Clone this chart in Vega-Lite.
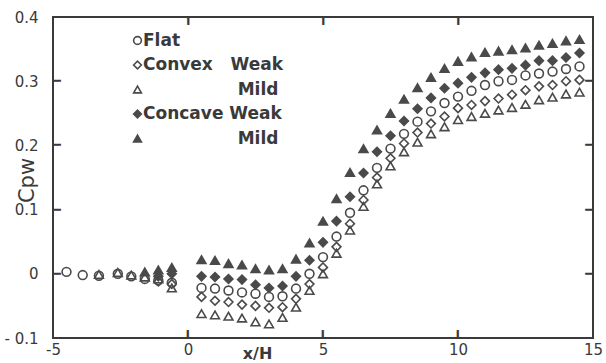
{
 "$schema": "https://vega.github.io/schema/vega-lite/v6.json",
 "width": 540, "height": 321,
 "autosize": "none",
 "padding": {"left": 53, "top": 17, "right": 13, "bottom": 25},
 "background": "white",
 "config": {"view": {"stroke": "#3a3a3a", "strokeWidth": 2}, "font": "DejaVu Sans"},
 "datasets": {
  "ticks": [
   {"x": 0, "y": -0.1, "side": "bottom"}, {"x": 5, "y": -0.1, "side": "bottom"}, {"x": 10, "y": -0.1, "side": "bottom"},
   {"x": 0, "y": 0.4, "side": "top"}, {"x": 5, "y": 0.4, "side": "top"}, {"x": 10, "y": 0.4, "side": "top"},
   {"x": -5, "y": 0, "side": "left"}, {"x": -5, "y": 0.1, "side": "left"}, {"x": -5, "y": 0.2, "side": "left"}, {"x": -5, "y": 0.3, "side": "left"},
   {"x": 15, "y": 0, "side": "right"}, {"x": 15, "y": 0.1, "side": "right"}, {"x": 15, "y": 0.2, "side": "right"}, {"x": 15, "y": 0.3, "side": "right"}
  ],
  "pts": [
  {"x": -4.5, "y": 0.003, "s": "Flat"}, {"x": -3.9, "y": -0.002, "s": "Flat"}, {"x": -3.3, "y": -0.003, "s": "Flat"}, {"x": -2.6, "y": 0.0, "s": "Flat"}, {"x": -2.1, "y": -0.004, "s": "Flat"}, {"x": -1.6, "y": -0.008, "s": "Flat"}, {"x": -1.1, "y": -0.01, "s": "Flat"}, {"x": -0.6, "y": -0.014, "s": "Flat"},
  {"x": -3.3, "y": -0.001, "s": "Convex Mild"}, {"x": -2.6, "y": 0.002, "s": "Convex Mild"}, {"x": -2.1, "y": -0.002, "s": "Convex Mild"}, {"x": -1.6, "y": -0.005, "s": "Convex Mild"}, {"x": -1.1, "y": -0.008, "s": "Convex Mild"}, {"x": -0.6, "y": -0.022, "s": "Convex Mild"},
  {"x": -1.6, "y": 0.003, "s": "Concave Mild"}, {"x": -1.1, "y": 0.006, "s": "Concave Mild"}, {"x": -0.6, "y": 0.01, "s": "Concave Mild"},
  {"x": -1.1, "y": -0.004, "s": "Concave Weak"}, {"x": -0.6, "y": 0.0, "s": "Concave Weak"},
  {"x": -1.1, "y": -0.012, "s": "Convex Weak"}, {"x": -0.6, "y": -0.016, "s": "Convex Weak"},

  {"x": 0.5, "y": -0.022, "s": "Flat"}, {"x": 1.0, "y": -0.023, "s": "Flat"}, {"x": 1.5, "y": -0.026, "s": "Flat"}, {"x": 2.0, "y": -0.029, "s": "Flat"}, {"x": 2.5, "y": -0.031, "s": "Flat"}, {"x": 3.0, "y": -0.036, "s": "Flat"}, {"x": 3.5, "y": -0.035, "s": "Flat"}, {"x": 4.0, "y": -0.023, "s": "Flat"}, {"x": 4.5, "y": 0.0, "s": "Flat"}, {"x": 5.0, "y": 0.026, "s": "Flat"}, {"x": 5.5, "y": 0.058, "s": "Flat"}, {"x": 6.0, "y": 0.095, "s": "Flat"}, {"x": 6.5, "y": 0.13, "s": "Flat"}, {"x": 7.0, "y": 0.165, "s": "Flat"}, {"x": 7.5, "y": 0.195, "s": "Flat"}, {"x": 8.0, "y": 0.218, "s": "Flat"}, {"x": 8.5, "y": 0.237, "s": "Flat"}, {"x": 9.0, "y": 0.253, "s": "Flat"}, {"x": 9.5, "y": 0.266, "s": "Flat"}, {"x": 10.0, "y": 0.276, "s": "Flat"}, {"x": 10.5, "y": 0.285, "s": "Flat"}, {"x": 11.0, "y": 0.294, "s": "Flat"}, {"x": 11.5, "y": 0.3, "s": "Flat"}, {"x": 12.0, "y": 0.302, "s": "Flat"}, {"x": 12.5, "y": 0.309, "s": "Flat"}, {"x": 13.0, "y": 0.312, "s": "Flat"}, {"x": 13.5, "y": 0.315, "s": "Flat"}, {"x": 14.0, "y": 0.319, "s": "Flat"}, {"x": 14.5, "y": 0.323, "s": "Flat"},

  {"x": 0.5, "y": -0.036, "s": "Convex Weak"}, {"x": 1.0, "y": -0.042, "s": "Convex Weak"}, {"x": 1.5, "y": -0.044, "s": "Convex Weak"}, {"x": 2.0, "y": -0.048, "s": "Convex Weak"}, {"x": 2.5, "y": -0.05, "s": "Convex Weak"}, {"x": 3.0, "y": -0.053, "s": "Convex Weak"}, {"x": 3.5, "y": -0.052, "s": "Convex Weak"}, {"x": 4.0, "y": -0.039, "s": "Convex Weak"}, {"x": 4.5, "y": -0.016, "s": "Convex Weak"}, {"x": 5.0, "y": 0.01, "s": "Convex Weak"}, {"x": 5.5, "y": 0.042, "s": "Convex Weak"}, {"x": 6.0, "y": 0.078, "s": "Convex Weak"}, {"x": 6.5, "y": 0.115, "s": "Convex Weak"}, {"x": 7.0, "y": 0.15, "s": "Convex Weak"}, {"x": 7.5, "y": 0.18, "s": "Convex Weak"}, {"x": 8.0, "y": 0.203, "s": "Convex Weak"}, {"x": 8.5, "y": 0.22, "s": "Convex Weak"}, {"x": 9.0, "y": 0.234, "s": "Convex Weak"}, {"x": 9.5, "y": 0.245, "s": "Convex Weak"}, {"x": 10.0, "y": 0.258, "s": "Convex Weak"}, {"x": 10.5, "y": 0.263, "s": "Convex Weak"}, {"x": 11.0, "y": 0.269, "s": "Convex Weak"}, {"x": 11.5, "y": 0.273, "s": "Convex Weak"}, {"x": 12.0, "y": 0.279, "s": "Convex Weak"}, {"x": 12.5, "y": 0.286, "s": "Convex Weak"}, {"x": 13.0, "y": 0.292, "s": "Convex Weak"}, {"x": 13.5, "y": 0.294, "s": "Convex Weak"}, {"x": 14.0, "y": 0.3, "s": "Convex Weak"}, {"x": 14.5, "y": 0.302, "s": "Convex Weak"},

  {"x": 0.5, "y": -0.062, "s": "Convex Mild"}, {"x": 1.0, "y": -0.064, "s": "Convex Mild"}, {"x": 1.5, "y": -0.066, "s": "Convex Mild"}, {"x": 2.0, "y": -0.069, "s": "Convex Mild"}, {"x": 2.5, "y": -0.075, "s": "Convex Mild"}, {"x": 3.0, "y": -0.078, "s": "Convex Mild"}, {"x": 3.5, "y": -0.068, "s": "Convex Mild"}, {"x": 4.0, "y": -0.052, "s": "Convex Mild"}, {"x": 4.5, "y": -0.026, "s": "Convex Mild"}, {"x": 5.0, "y": 0.0, "s": "Convex Mild"}, {"x": 5.5, "y": 0.032, "s": "Convex Mild"}, {"x": 6.0, "y": 0.068, "s": "Convex Mild"}, {"x": 6.5, "y": 0.105, "s": "Convex Mild"}, {"x": 7.0, "y": 0.14, "s": "Convex Mild"}, {"x": 7.5, "y": 0.168, "s": "Convex Mild"}, {"x": 8.0, "y": 0.19, "s": "Convex Mild"}, {"x": 8.5, "y": 0.205, "s": "Convex Mild"}, {"x": 9.0, "y": 0.218, "s": "Convex Mild"}, {"x": 9.5, "y": 0.229, "s": "Convex Mild"}, {"x": 10.0, "y": 0.24, "s": "Convex Mild"}, {"x": 10.5, "y": 0.245, "s": "Convex Mild"}, {"x": 11.0, "y": 0.25, "s": "Convex Mild"}, {"x": 11.5, "y": 0.255, "s": "Convex Mild"}, {"x": 12.0, "y": 0.259, "s": "Convex Mild"}, {"x": 12.5, "y": 0.264, "s": "Convex Mild"}, {"x": 13.0, "y": 0.271, "s": "Convex Mild"}, {"x": 13.5, "y": 0.275, "s": "Convex Mild"}, {"x": 14.0, "y": 0.28, "s": "Convex Mild"}, {"x": 14.5, "y": 0.283, "s": "Convex Mild"},

  {"x": 0.5, "y": -0.004, "s": "Concave Weak"}, {"x": 1.0, "y": -0.005, "s": "Concave Weak"}, {"x": 1.5, "y": -0.008, "s": "Concave Weak"}, {"x": 2.0, "y": -0.009, "s": "Concave Weak"}, {"x": 2.5, "y": -0.017, "s": "Concave Weak"}, {"x": 3.0, "y": -0.022, "s": "Concave Weak"}, {"x": 3.5, "y": -0.019, "s": "Concave Weak"}, {"x": 4.0, "y": -0.004, "s": "Concave Weak"}, {"x": 4.5, "y": 0.021, "s": "Concave Weak"}, {"x": 5.0, "y": 0.049, "s": "Concave Weak"}, {"x": 5.5, "y": 0.082, "s": "Concave Weak"}, {"x": 6.0, "y": 0.12, "s": "Concave Weak"}, {"x": 6.5, "y": 0.157, "s": "Concave Weak"}, {"x": 7.0, "y": 0.19, "s": "Concave Weak"}, {"x": 7.5, "y": 0.215, "s": "Concave Weak"}, {"x": 8.0, "y": 0.238, "s": "Concave Weak"}, {"x": 8.5, "y": 0.257, "s": "Concave Weak"}, {"x": 9.0, "y": 0.274, "s": "Concave Weak"}, {"x": 9.5, "y": 0.289, "s": "Concave Weak"}, {"x": 10.0, "y": 0.297, "s": "Concave Weak"}, {"x": 10.5, "y": 0.306, "s": "Concave Weak"}, {"x": 11.0, "y": 0.313, "s": "Concave Weak"}, {"x": 11.5, "y": 0.318, "s": "Concave Weak"}, {"x": 12.0, "y": 0.32, "s": "Concave Weak"}, {"x": 12.5, "y": 0.325, "s": "Concave Weak"}, {"x": 13.0, "y": 0.332, "s": "Concave Weak"}, {"x": 13.5, "y": 0.332, "s": "Concave Weak"}, {"x": 14.0, "y": 0.337, "s": "Concave Weak"}, {"x": 14.5, "y": 0.344, "s": "Concave Weak"},

  {"x": 0.5, "y": 0.022, "s": "Concave Mild"}, {"x": 1.0, "y": 0.021, "s": "Concave Mild"}, {"x": 1.5, "y": 0.016, "s": "Concave Mild"}, {"x": 2.0, "y": 0.014, "s": "Concave Mild"}, {"x": 2.5, "y": 0.008, "s": "Concave Mild"}, {"x": 3.0, "y": 0.006, "s": "Concave Mild"}, {"x": 3.5, "y": 0.008, "s": "Concave Mild"}, {"x": 4.0, "y": 0.023, "s": "Concave Mild"}, {"x": 4.5, "y": 0.048, "s": "Concave Mild"}, {"x": 5.0, "y": 0.082, "s": "Concave Mild"}, {"x": 5.5, "y": 0.117, "s": "Concave Mild"}, {"x": 6.0, "y": 0.158, "s": "Concave Mild"}, {"x": 6.5, "y": 0.195, "s": "Concave Mild"}, {"x": 7.0, "y": 0.224, "s": "Concave Mild"}, {"x": 7.5, "y": 0.25, "s": "Concave Mild"}, {"x": 8.0, "y": 0.272, "s": "Concave Mild"}, {"x": 8.5, "y": 0.29, "s": "Concave Mild"}, {"x": 9.0, "y": 0.306, "s": "Concave Mild"}, {"x": 9.5, "y": 0.32, "s": "Concave Mild"}, {"x": 10.0, "y": 0.331, "s": "Concave Mild"}, {"x": 10.5, "y": 0.338, "s": "Concave Mild"}, {"x": 11.0, "y": 0.345, "s": "Concave Mild"}, {"x": 11.5, "y": 0.347, "s": "Concave Mild"}, {"x": 12.0, "y": 0.349, "s": "Concave Mild"}, {"x": 12.5, "y": 0.352, "s": "Concave Mild"}, {"x": 13.0, "y": 0.356, "s": "Concave Mild"}, {"x": 13.5, "y": 0.359, "s": "Concave Mild"}, {"x": 14.0, "y": 0.363, "s": "Concave Mild"}, {"x": 14.5, "y": 0.365, "s": "Concave Mild"}
  ]
 },
 "layer": [
  {
   "data": {"name": "pts"},
   "mark": {"type": "point", "filled": true, "strokeWidth": 1.6, "size": 78, "opacity": 1},
   "encoding": {
    "x": {"field": "x", "type": "quantitative", "scale": {"domain": [-5, 15], "nice": false, "zero": false},
      "axis": {"values": [-5, 0, 5, 10, 15], "ticks": false, "domain": false, "grid": false,
        "labelExpr": "datum.value < 0 ? '-5' : datum.label", "labelFont": "DejaVu Sans", "labelFontSize": 15, "labelColor": "#3a3a3a", "labelPadding": 4, "labelFlush": false,
        "title": "x/H", "titleX": 204, "titleY": 15, "titleFont": "DejaVu Sans", "titleFontSize": 16, "titleFontWeight": "bold", "titleColor": "#3a3a3a", "titleBaseline": "middle", "titleAlign": "center"}},
    "y": {"field": "y", "type": "quantitative", "scale": {"domain": [-0.1, 0.4], "nice": false, "zero": false},
      "axis": {"values": [-0.1, 0, 0.1, 0.2, 0.3, 0.4], "ticks": false, "domain": false, "grid": false,
        "labelExpr": "datum.value < -0.05 ? '- 0.1' : (datum.value == 0 ? '0' : format(datum.value, '.1f'))", "labelFont": "DejaVu Sans", "labelFontSize": 15, "labelColor": "#3a3a3a", "labelPadding": 15, "labelFlush": false,
        "title": "Cpw", "titleX": -26, "titleY": 163, "titleAngle": 270, "titleFont": "DejaVu Sans", "titleFontSize": 21, "titleFontWeight": "normal", "titleColor": "#3a3a3a", "titleBaseline": "middle", "titleAlign": "center"}},
    "shape": {"field": "s", "type": "nominal",
      "scale": {"domain": ["Flat", "Convex Weak", "Convex Mild", "Concave Weak", "Concave Mild"], "range": ["circle", "diamond", "triangle-up", "diamond", "triangle-up"]},
      "legend": {"orient": "none", "legendX": 76, "legendY": 15, "title": null, "labelFont": "DejaVu Sans", "labelFontSize": 17, "labelFontWeight": "bold", "labelColor": "#3a3a3a", "symbolSize": 60, "symbolStrokeWidth": 1.6, "rowPadding": 6.5, "labelOffset": -3,
        "labelExpr": "datum.label == 'Convex Weak' ? 'Convex\u00a0\u00a0\u00a0Weak' : (datum.label == 'Concave Weak' ? 'Concave\u00a0Weak' : (datum.label == 'Flat' ? 'Flat' : '\u200b\u00a0\u00a0\u00a0\u00a0\u00a0\u00a0\u00a0\u00a0\u00a0\u00a0\u00a0\u00a0\u00a0\u00a0\u00a0\u00a0Mild'))"}},
    "fill": {"field": "s", "type": "nominal",
      "scale": {"domain": ["Flat", "Convex Weak", "Convex Mild", "Concave Weak", "Concave Mild"], "range": ["transparent", "transparent", "transparent", "#4a4a4a", "#4a4a4a"]},
      "legend": {"orient": "none", "legendX": 76, "legendY": 15, "title": null, "labelFont": "DejaVu Sans", "labelFontSize": 17, "labelFontWeight": "bold", "labelColor": "#3a3a3a", "symbolSize": 60, "symbolStrokeWidth": 1.6, "rowPadding": 6.5, "labelOffset": -3,
        "labelExpr": "datum.label == 'Convex Weak' ? 'Convex\u00a0\u00a0\u00a0Weak' : (datum.label == 'Concave Weak' ? 'Concave\u00a0Weak' : (datum.label == 'Flat' ? 'Flat' : '\u200b\u00a0\u00a0\u00a0\u00a0\u00a0\u00a0\u00a0\u00a0\u00a0\u00a0\u00a0\u00a0\u00a0\u00a0\u00a0\u00a0Mild'))"}},
    "stroke": {"field": "s", "type": "nominal",
      "scale": {"domain": ["Flat", "Convex Weak", "Convex Mild", "Concave Weak", "Concave Mild"], "range": ["#4a4a4a", "#4a4a4a", "#4a4a4a", "#4a4a4a", "#4a4a4a"]},
      "legend": {"orient": "none", "legendX": 76, "legendY": 15, "title": null, "labelFont": "DejaVu Sans", "labelFontSize": 17, "labelFontWeight": "bold", "labelColor": "#3a3a3a", "symbolSize": 60, "symbolStrokeWidth": 1.6, "rowPadding": 6.5, "labelOffset": -3,
        "labelExpr": "datum.label == 'Convex Weak' ? 'Convex\u00a0\u00a0\u00a0Weak' : (datum.label == 'Concave Weak' ? 'Concave\u00a0Weak' : (datum.label == 'Flat' ? 'Flat' : '\u200b\u00a0\u00a0\u00a0\u00a0\u00a0\u00a0\u00a0\u00a0\u00a0\u00a0\u00a0\u00a0\u00a0\u00a0\u00a0\u00a0Mild'))"}}
   }
  },
  {
   "data": {"name": "ticks"},
   "transform": [{"filter": "datum.side == 'bottom'"}],
   "mark": {"type": "text", "text": "\u2501", "font": "DejaVu Sans", "fontSize": 13, "align": "left", "baseline": "middle", "angle": 270, "color": "#3a3a3a"},
   "encoding": {"x": {"field": "x", "type": "quantitative"}, "y": {"field": "y", "type": "quantitative"}}
  },
  {
   "data": {"name": "ticks"},
   "transform": [{"filter": "datum.side == 'top'"}],
   "mark": {"type": "text", "text": "\u2501", "font": "DejaVu Sans", "fontSize": 13, "align": "left", "baseline": "middle", "angle": 90, "color": "#3a3a3a"},
   "encoding": {"x": {"field": "x", "type": "quantitative"}, "y": {"field": "y", "type": "quantitative"}}
  },
  {
   "data": {"name": "ticks"},
   "transform": [{"filter": "datum.side == 'left'"}],
   "mark": {"type": "text", "text": "\u2501", "font": "DejaVu Sans", "fontSize": 13, "align": "left", "baseline": "middle", "color": "#3a3a3a"},
   "encoding": {"x": {"field": "x", "type": "quantitative"}, "y": {"field": "y", "type": "quantitative"}}
  },
  {
   "data": {"name": "ticks"},
   "transform": [{"filter": "datum.side == 'right'"}],
   "mark": {"type": "text", "text": "\u2501", "font": "DejaVu Sans", "fontSize": 13, "align": "right", "baseline": "middle", "color": "#3a3a3a"},
   "encoding": {"x": {"field": "x", "type": "quantitative"}, "y": {"field": "y", "type": "quantitative"}}
  }
 ]
}
